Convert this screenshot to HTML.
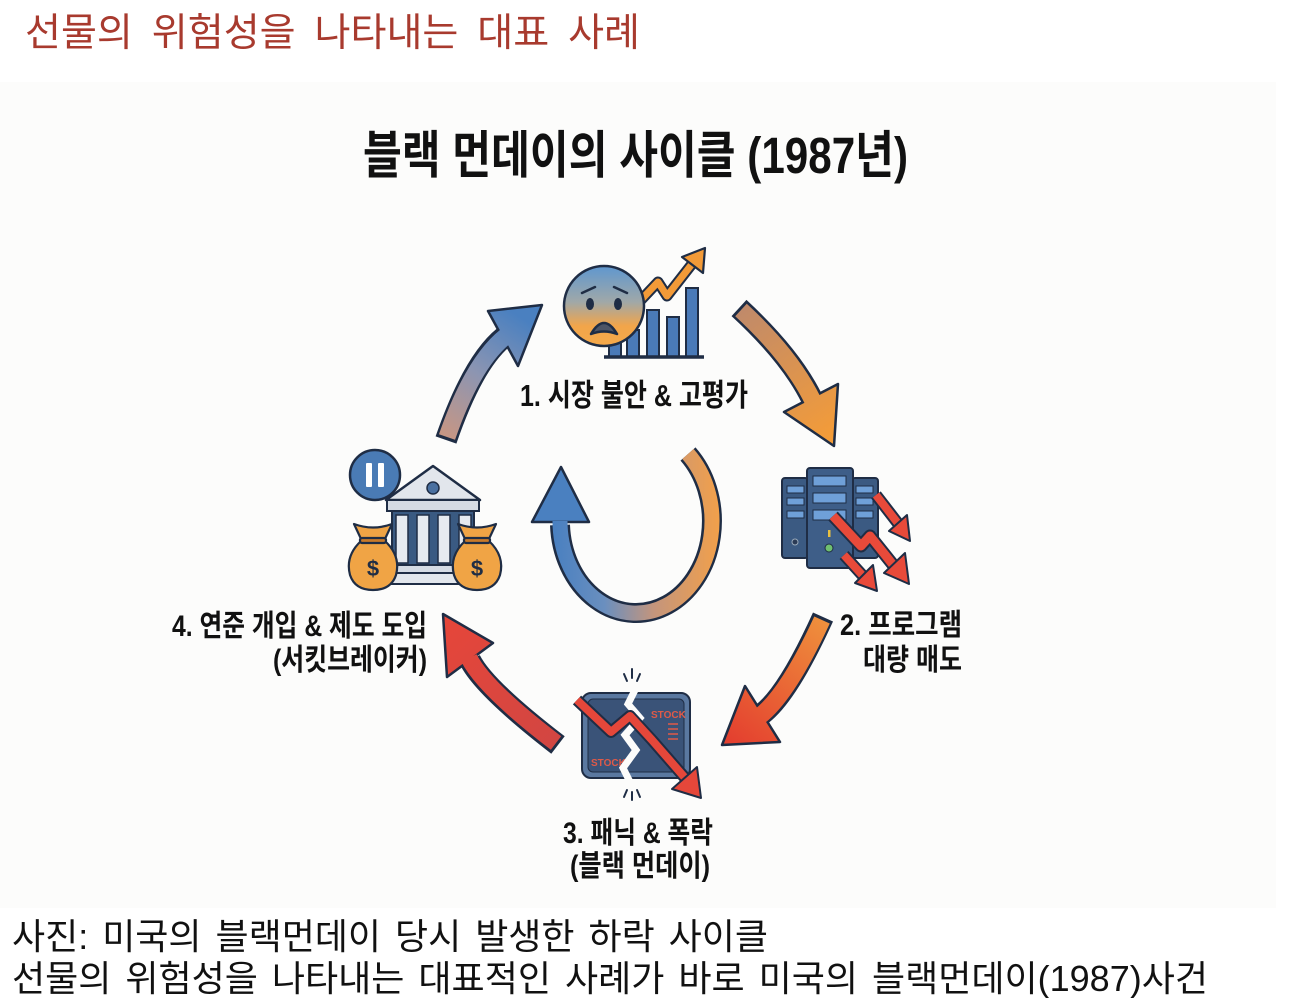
<!DOCTYPE html>
<html><head><meta charset="utf-8"><style>
html,body{margin:0;padding:0;background:#fff;}
svg{display:block;}
text{font-family:"Liberation Sans","Noto Sans CJK KR",sans-serif;}
.b{font-weight:700;fill:#111;}
</style></head><body>
<svg width="1309" height="998" viewBox="0 0 1309 998" xmlns="http://www.w3.org/2000/svg">
<defs>
<linearGradient id="gA" gradientUnits="userSpaceOnUse" x1="447" y1="437" x2="522" y2="318"><stop offset="0" stop-color="#c79684"/><stop offset="0.5" stop-color="#8c95b2"/><stop offset="1" stop-color="#4a80c0"/></linearGradient>
<linearGradient id="gB" gradientUnits="userSpaceOnUse" x1="741" y1="310" x2="830" y2="440"><stop offset="0" stop-color="#c08a6a"/><stop offset="1" stop-color="#f49c38"/></linearGradient>
<linearGradient id="gC" gradientUnits="userSpaceOnUse" x1="822" y1="620" x2="730" y2="740"><stop offset="0" stop-color="#ef8f3c"/><stop offset="1" stop-color="#e4402f"/></linearGradient>
<linearGradient id="gD" gradientUnits="userSpaceOnUse" x1="556" y1="743" x2="447" y2="620"><stop offset="0" stop-color="#d24642"/><stop offset="1" stop-color="#e5463a"/></linearGradient>
<linearGradient id="gR" gradientUnits="userSpaceOnUse" x1="555" y1="0" x2="720" y2="0"><stop offset="0" stop-color="#4a80c0"/><stop offset="0.3" stop-color="#6a8fbf"/><stop offset="0.6" stop-color="#c4957c"/><stop offset="1" stop-color="#f2a04a"/></linearGradient>
<linearGradient id="gF" x1="0" y1="0" x2="0" y2="1"><stop offset="0" stop-color="#5f97cf"/><stop offset="0.45" stop-color="#a0a8a8"/><stop offset="0.75" stop-color="#f2a54a"/><stop offset="1" stop-color="#f5a94a"/></linearGradient>
</defs>

<!-- image area -->
<rect x="0" y="82" width="1276" height="826" fill="#fcfcfb"/>

<!-- header -->
<text x="25" y="46" font-size="39" fill="#a83a2e" style="word-spacing:8px" textLength="615" lengthAdjust="spacingAndGlyphs">선물의 위험성을 나타내는 대표 사례</text>

<!-- title -->
<text class="b" x="363" y="173" font-size="51" textLength="545" lengthAdjust="spacingAndGlyphs">블랙 먼데이의 사이클 (1987년)</text>

<!-- Arrow A (top-left, blue) -->
<path d="M446,440 Q473,362 504,337" fill="none" stroke="#1f2d45" stroke-width="22"/>
<polygon points="488,311 542,305 518,366" fill="url(#gA)" stroke="#1f2d45" stroke-width="2.5" stroke-linejoin="round"/>
<path d="M447,437 Q473,362 506,336" fill="none" stroke="url(#gA)" stroke-width="17"/>

<!-- Arrow B (top-right, orange) -->
<path d="M739,308 Q791,356 812,399" fill="none" stroke="#1f2d45" stroke-width="22"/>
<polygon points="784,412 838,384 834,446" fill="url(#gB)" stroke="#1f2d45" stroke-width="2.5" stroke-linejoin="round"/>
<path d="M741,310 Q791,356 813,401" fill="none" stroke="url(#gB)" stroke-width="17"/>

<!-- Arrow C (right-bottom, orange->red) -->
<path d="M823,617 Q788,694 762,714" fill="none" stroke="#1f2d45" stroke-width="22"/>
<polygon points="745,686 780,742 722,745" fill="url(#gC)" stroke="#1f2d45" stroke-width="2.5" stroke-linejoin="round"/>
<path d="M822,620 Q788,694 760,716" fill="none" stroke="url(#gC)" stroke-width="17"/>

<!-- Arrow D (bottom-left, red) -->
<path d="M558,745 Q484,688 470,660" fill="none" stroke="#1f2d45" stroke-width="22"/>
<polygon points="493,643 447,677 443,614" fill="url(#gD)" stroke="#1f2d45" stroke-width="2.5" stroke-linejoin="round"/>
<path d="M556,743 Q484,688 469,658" fill="none" stroke="url(#gD)" stroke-width="17"/>

<!-- Center circular arrow -->
<path d="M688,454 A76,92 0 1,1 560,525" fill="none" stroke="#1f2d45" stroke-width="20"/>
<polygon points="532,522 561,467 589,522" fill="#4a80c0" stroke="#1f2d45" stroke-width="2.5" stroke-linejoin="round"/>
<path d="M688,454 A76,92 0 1,1 560,521" fill="none" stroke="url(#gR)" stroke-width="15"/>

<!-- Icon 1: face + chart -->
<rect x="609" y="340" width="12" height="17" fill="#4a7ab8" stroke="#1f2d45" stroke-width="2"/>
<rect x="627" y="330" width="12" height="27" fill="#4a7ab8" stroke="#1f2d45" stroke-width="2"/>
<rect x="647" y="310" width="12" height="47" fill="#4a7ab8" stroke="#1f2d45" stroke-width="2"/>
<rect x="667" y="317" width="12" height="40" fill="#4a7ab8" stroke="#1f2d45" stroke-width="2"/>
<rect x="686" y="288" width="12" height="69" fill="#4a7ab8" stroke="#1f2d45" stroke-width="2"/>
<line x1="604" y1="357" x2="704" y2="357" stroke="#1f2d45" stroke-width="3.5"/>
<polyline points="641,300 658,282 667,296 692,264" fill="none" stroke="#1f2d45" stroke-width="11" stroke-linejoin="round"/>
<polyline points="641,300 658,282 667,296 692,264" fill="none" stroke="#f29a38" stroke-width="7" stroke-linejoin="round"/>
<polygon points="705,248 703,273 682,257" fill="#f29a38" stroke="#1f2d45" stroke-width="2.2" stroke-linejoin="round"/>
<circle cx="604" cy="306" r="40" fill="url(#gF)" stroke="#1f2d45" stroke-width="2.5"/>
<path d="M582,293 L595,287" stroke="#1f2d45" stroke-width="2.5" stroke-linecap="round"/>
<path d="M614,287 L627,293" stroke="#1f2d45" stroke-width="2.5" stroke-linecap="round"/>
<ellipse cx="590" cy="304" rx="4" ry="6" fill="#1f2d45"/>
<ellipse cx="618" cy="304" rx="4" ry="6" fill="#1f2d45"/>
<path d="M591,334 Q604,312 617,334 Q604,329 591,334 Z" fill="#4d5566" stroke="#1f2d45" stroke-width="2.5" stroke-linejoin="round"/>

<text class="b" x="520" y="406" font-size="31" textLength="228" lengthAdjust="spacingAndGlyphs">1. 시장 불안 &amp; 고평가</text>

<!-- Icon 2: servers -->
<rect x="782" y="478" width="26" height="80" rx="3" fill="#3b5a82" stroke="#1f2d45" stroke-width="2"/>
<rect x="852" y="478" width="26" height="80" rx="3" fill="#3b5a82" stroke="#1f2d45" stroke-width="2"/>
<rect x="807" y="468" width="46" height="100" rx="3" fill="#3e5e88" stroke="#1f2d45" stroke-width="2"/>
<rect x="787" y="486" width="17" height="7" fill="#6fa0d8" stroke="#1f2d45" stroke-width="1"/>
<rect x="787" y="498" width="17" height="7" fill="#6fa0d8" stroke="#1f2d45" stroke-width="1"/>
<rect x="787" y="511" width="17" height="7" fill="#6fa0d8" stroke="#1f2d45" stroke-width="1"/>
<rect x="856" y="486" width="17" height="7" fill="#6fa0d8" stroke="#1f2d45" stroke-width="1"/>
<rect x="856" y="498" width="17" height="7" fill="#6fa0d8" stroke="#1f2d45" stroke-width="1"/>
<rect x="856" y="511" width="17" height="7" fill="#6fa0d8" stroke="#1f2d45" stroke-width="1"/>
<rect x="813" y="476" width="33" height="10" fill="#6fa0d8" stroke="#1f2d45" stroke-width="1"/>
<rect x="813" y="493" width="33" height="10" fill="#6fa0d8" stroke="#1f2d45" stroke-width="1"/>
<rect x="813" y="510" width="33" height="10" fill="#6fa0d8" stroke="#1f2d45" stroke-width="1"/>
<circle cx="795" cy="542" r="3" fill="#2a3a55" stroke="#9ab" stroke-width="1"/>
<circle cx="829" cy="548" r="4" fill="#6fc070" stroke="#1f2d45" stroke-width="1"/>
<rect x="828" y="530" width="2.5" height="7" fill="#e8c040"/>
<g stroke-linejoin="round">
<path d="M876,495 L900,526" stroke="#1f2d45" stroke-width="12" fill="none"/>
<path d="M876,495 L900,526" stroke="#e84a3a" stroke-width="8" fill="none"/>
<polygon points="910,541 889,531 907,515" fill="#e84a3a" stroke="#1f2d45" stroke-width="2"/>
<polyline points="833,516 861,546 870,536 894,566" fill="none" stroke="#1f2d45" stroke-width="13"/>
<polyline points="833,516 861,546 870,536 894,566" fill="none" stroke="#e84a3a" stroke-width="9"/>
<polygon points="909,584 884,573 905,553" fill="#e84a3a" stroke="#1f2d45" stroke-width="2"/>
<path d="M844,555 L864,577" stroke="#1f2d45" stroke-width="12" fill="none"/>
<path d="M844,555 L864,577" stroke="#e84a3a" stroke-width="8" fill="none"/>
<polygon points="877,591 855,583 873,565" fill="#e84a3a" stroke="#1f2d45" stroke-width="2"/>
</g>

<text class="b" x="840" y="635" font-size="30" textLength="122" lengthAdjust="spacingAndGlyphs">2. 프로그램</text>
<text class="b" x="863" y="670" font-size="30" textLength="99" lengthAdjust="spacingAndGlyphs">대량 매도</text>

<!-- Icon 3: broken stock board -->
<rect x="582" y="693" width="108" height="85" rx="9" fill="#5a78a0" stroke="#1f2d45" stroke-width="2"/>
<rect x="588" y="699" width="96" height="73" rx="5" fill="#3a5378" stroke="#1f2d45" stroke-width="1"/>
<text x="651" y="718" font-size="10" font-weight="700" fill="#e05a48">STOCK</text>
<text x="591" y="766" font-size="10" font-weight="700" fill="#e05a48">STOCK</text>
<g stroke="#e05a48" stroke-width="1.5"><line x1="668" y1="724" x2="678" y2="724"/><line x1="668" y1="729" x2="678" y2="729"/><line x1="668" y1="734" x2="678" y2="734"/><line x1="668" y1="739" x2="678" y2="739"/></g>
<polyline points="637,686 628,704 640,718 625,735 636,750 623,768 632,786" fill="none" stroke="#fcfcfb" stroke-width="7" stroke-linejoin="miter"/>
<polyline points="577,700 611,732 630,716 652,740 686,779" fill="none" stroke="#1f2d45" stroke-width="12" stroke-linejoin="round"/>
<polyline points="577,700 611,732 630,716 652,740 686,779" fill="none" stroke="#e5473a" stroke-width="8" stroke-linejoin="round"/>
<polygon points="701,798 672,789 697,767" fill="#e5473a" stroke="#1f2d45" stroke-width="2" stroke-linejoin="round"/>
<g stroke="#1f2d45" stroke-width="2" stroke-linecap="round">
<line x1="624" y1="674" x2="627" y2="681"/><line x1="632" y1="669" x2="632" y2="678"/><line x1="640" y1="674" x2="637" y2="681"/>
<line x1="624" y1="797" x2="627" y2="790"/><line x1="632" y1="800" x2="632" y2="792"/><line x1="640" y1="797" x2="637" y2="790"/>
</g>

<text class="b" x="563" y="843" font-size="30" textLength="150" lengthAdjust="spacingAndGlyphs">3. 패닉 &amp; 폭락</text>
<text class="b" x="570" y="876" font-size="30" textLength="140" lengthAdjust="spacingAndGlyphs">(블랙 먼데이)</text>

<!-- Icon 4: bank -->
<circle cx="375" cy="475" r="25" fill="#4a7bb5" stroke="#1f2d45" stroke-width="2.5"/>
<rect x="366" y="463" width="6" height="24" rx="1" fill="#fff"/>
<rect x="378" y="463" width="6" height="24" rx="1" fill="#fff"/>
<polygon points="433,466 386,500 480,500" fill="#e2e6ec" stroke="#1f2d45" stroke-width="2.5" stroke-linejoin="round"/>
<circle cx="433" cy="488" r="6" fill="#4a70a0" stroke="#1f2d45" stroke-width="1.5"/>
<rect x="387" y="500" width="92" height="11" fill="#d5dbe4" stroke="#1f2d45" stroke-width="2"/>
<rect x="392" y="511" width="82" height="54" fill="#3a5a82" stroke="#1f2d45" stroke-width="2"/>
<g fill="#e6eaf0" stroke="#1f2d45" stroke-width="1.5">
<rect x="396" y="515" width="12" height="48"/><rect x="417" y="515" width="12" height="48"/><rect x="438" y="515" width="12" height="48"/><rect x="459" y="515" width="12" height="48"/>
</g>
<rect x="385" y="565" width="96" height="8" fill="#d5dbe4" stroke="#1f2d45" stroke-width="2"/>
<rect x="380" y="573" width="106" height="11" fill="#e2e6ec" stroke="#1f2d45" stroke-width="2"/>
<g stroke="#1f2d45" stroke-width="2.2" stroke-linejoin="round">
<path d="M361,541 Q345,556 350,575 Q355,590 373,590 Q391,590 396,575 Q401,556 385,541 Z" fill="#f0a445"/>
<path d="M362,541 L354,524 Q373,531 392,524 L384,541 Z" fill="#f0a445"/>
<rect x="360" y="538" width="26" height="5" rx="2" fill="#c97a2a"/>
<path d="M465,541 Q449,556 454,575 Q459,590 477,590 Q495,590 500,575 Q505,556 489,541 Z" fill="#f0a445"/>
<path d="M466,541 L458,524 Q477,531 496,524 L488,541 Z" fill="#f0a445"/>
<rect x="464" y="538" width="26" height="5" rx="2" fill="#c97a2a"/>
</g>
<text x="373" y="576" font-size="22" font-weight="700" fill="#1f2d45" text-anchor="middle">$</text>
<text x="477" y="576" font-size="22" font-weight="700" fill="#1f2d45" text-anchor="middle">$</text>

<text class="b" x="172" y="636" font-size="30" textLength="255" lengthAdjust="spacingAndGlyphs">4. 연준 개입 &amp; 제도 도입</text>
<text class="b" x="273" y="670" font-size="30" textLength="154" lengthAdjust="spacingAndGlyphs">(서킷브레이커)</text>

<!-- caption -->
<text x="12" y="949" font-size="36" fill="#111" style="word-spacing:4px" textLength="756" lengthAdjust="spacingAndGlyphs">사진: 미국의 블랙먼데이 당시 발생한 하락 사이클</text>
<text x="12" y="991" font-size="36" fill="#111" style="word-spacing:4px" textLength="1196" lengthAdjust="spacingAndGlyphs">선물의 위험성을 나타내는 대표적인 사례가 바로 미국의 블랙먼데이(1987)사건</text>
</svg>
</body></html>
